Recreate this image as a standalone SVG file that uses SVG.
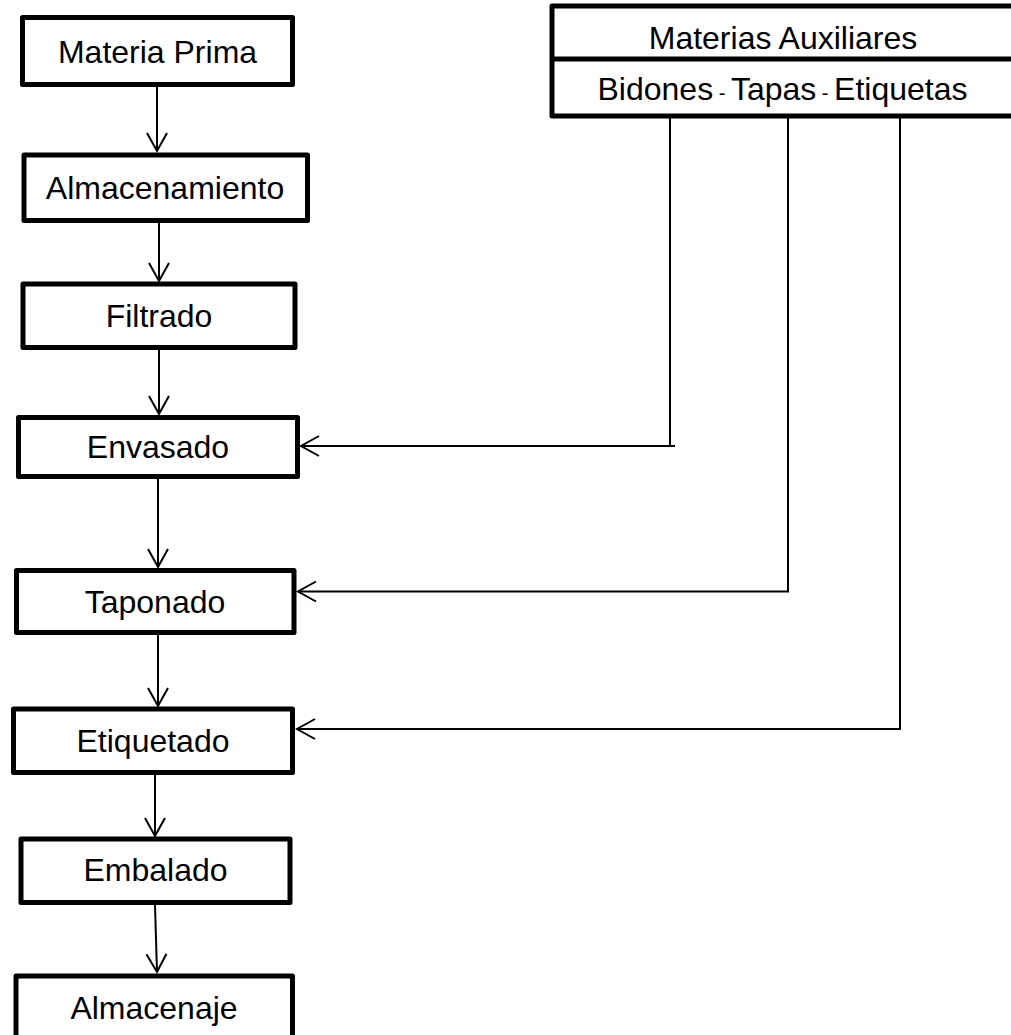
<svg xmlns="http://www.w3.org/2000/svg" width="1011" height="1035" viewBox="0 0 1011 1035">
<style>
.box{fill:#fff;stroke:#000;stroke-width:5;stroke-linejoin:round}
.lbl{font-family:"Liberation Sans",Arial,sans-serif;font-size:32px;fill:#000;text-anchor:middle}
.sm{font-size:20px}
.con{fill:none;stroke:#000;stroke-width:2}
</style>
<defs>
<marker id="ah" markerUnits="userSpaceOnUse" viewBox="-20 -12 22 24" refX="0" refY="0" markerWidth="22" markerHeight="24" orient="auto" overflow="visible">
<path d="M-18,-10 L0,0 L-18,10" fill="none" stroke="#000" stroke-width="2"/>
</marker>
</defs>
<rect width="1011" height="1035" fill="#fff"/>
<g id="connectors">
<line class="con" x1="157" y1="87" x2="157" y2="151" marker-end="url(#ah)"/>
<line class="con" x1="159" y1="223" x2="159" y2="281" marker-end="url(#ah)"/>
<line class="con" x1="159" y1="350" x2="159" y2="414" marker-end="url(#ah)"/>
<line class="con" x1="158" y1="479" x2="158" y2="567" marker-end="url(#ah)"/>
<line class="con" x1="158" y1="635" x2="158" y2="706" marker-end="url(#ah)"/>
<line class="con" x1="155" y1="775" x2="155" y2="836" marker-end="url(#ah)"/>
<line class="con" x1="155" y1="905" x2="157" y2="972" marker-end="url(#ah)"/>
<line class="con" x1="670" y1="118" x2="670" y2="446"/>
<line class="con" x1="675" y1="446" x2="301" y2="446" marker-end="url(#ah)"/>
<polyline class="con" points="788,118 788,591.5 298,591.5" marker-end="url(#ah)"/>
<polyline class="con" points="900,118 900,729 297,729" marker-end="url(#ah)"/>
</g>
<g id="aux">
<rect class="box" x="552" y="6" width="470" height="110"/>
<line x1="552" y1="59" x2="1015" y2="59" stroke="#000" stroke-width="5"/>
<text class="lbl" x="783" y="49">Materias Auxiliares</text>
<text class="lbl" x="782.5" y="100">Bidones<tspan class="sm"> - </tspan>Tapas<tspan class="sm"> - </tspan>Etiquetas</text>
</g>
<g id="n1"><rect class="box" x="22.5" y="17.5" width="270" height="67"/><text class="lbl" x="157.5" y="62.5">Materia Prima</text></g>
<g id="n2"><rect class="box" x="24" y="155" width="283.5" height="65.5"/><text class="lbl" x="165" y="199">Almacenamiento</text></g>
<g id="n3"><rect class="box" x="23" y="284" width="272" height="63.5"/><text class="lbl" x="159" y="327">Filtrado</text></g>
<g id="n4"><rect class="box" x="18.5" y="417.5" width="279" height="59"/><text class="lbl" x="158" y="458">Envasado</text></g>
<g id="n5"><rect class="box" x="16.5" y="570.5" width="277.5" height="62"/><text class="lbl" x="155" y="613">Taponado</text></g>
<g id="n6"><rect class="box" x="13.5" y="709" width="279" height="63.5"/><text class="lbl" x="153" y="752">Etiquetado</text></g>
<g id="n7"><rect class="box" x="21" y="839" width="269" height="63.5"/><text class="lbl" x="155.5" y="881">Embalado</text></g>
<g id="n8"><rect class="box" x="16" y="976" width="276.5" height="70"/><text class="lbl" x="154" y="1019">Almacenaje</text></g>
</svg>
